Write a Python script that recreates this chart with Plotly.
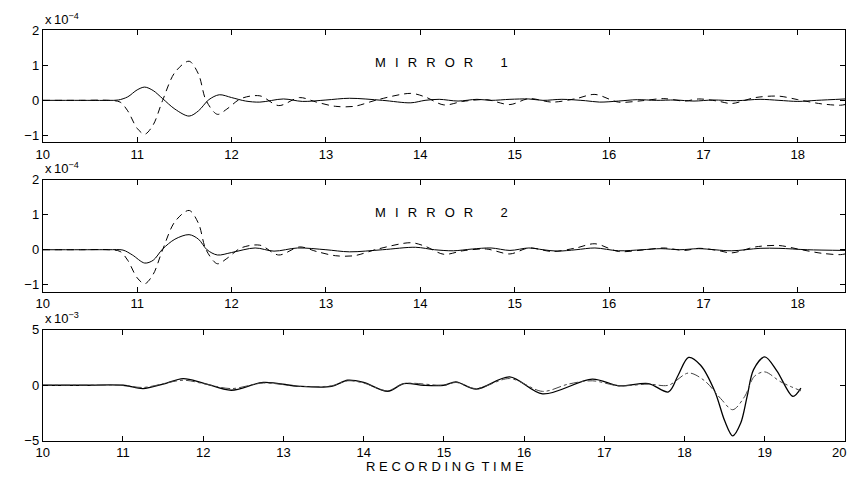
import plotly.graph_objects as go

# page is 856x484; the browser body keeps its default 8px margin, so the figure is 16px smaller
PAGE_W, PAGE_H, OFF = 856, 484, 8
W, H = PAGE_W - 2 * OFF, PAGE_H - 2 * OFF

# ---- data ----
# panel 1 & 2 dashed trace (units of 1e-4)
dash_t = [10.0, 10.4, 10.7, 10.82, 10.9, 11.0, 11.08, 11.17, 11.27, 11.4, 11.55, 11.65, 11.73, 11.85,
          11.95, 12.1, 12.3, 12.5, 12.72, 12.9, 13.1, 13.3, 13.55, 13.9, 14.05, 14.25, 14.45, 14.7,
          14.95, 15.15, 15.4, 15.65, 15.85, 16.1, 16.35, 16.58, 16.8, 16.95, 17.15, 17.3, 17.55,
          17.8, 18.0, 18.25, 18.45, 18.5]
dash_v = [0, 0, 0, -0.05, -0.3, -0.8, -0.97, -0.7, 0.0, 0.8, 1.12, 0.75, 0.0, -0.4,
          -0.25, 0.05, 0.13, -0.15, 0.08, -0.05, -0.17, -0.17, 0.02, 0.2, 0.1, -0.13, -0.03, 0.02,
          -0.12, 0.05, -0.05, 0.05, 0.17, -0.05, -0.01, 0.05, -0.02, 0.04, -0.02, -0.09, 0.08,
          0.12, 0.02, -0.1, -0.14, -0.12]

m1_t = [10.0, 10.4, 10.7, 10.8, 10.9, 11.0, 11.08, 11.17, 11.27, 11.4, 11.55, 11.65, 11.76, 11.87,
        12.0, 12.15, 12.3, 12.55, 12.75, 13.0, 13.25, 13.6, 13.9, 14.05, 14.2, 14.4, 14.6, 14.75,
        14.95, 15.15, 15.3, 15.5, 15.75, 15.9, 16.1, 16.3, 16.5, 16.7, 16.9, 17.1, 17.35,
        17.6, 17.8, 18.0, 18.2, 18.5]
m1_v = [0, 0, 0, 0.01, 0.1, 0.3, 0.38, 0.28, 0.05, -0.25, -0.45, -0.3, 0.02, 0.16,
        0.08, -0.02, -0.05, 0.04, -0.03, 0.01, 0.06, 0.0, -0.07, 0.0, 0.03, -0.02, 0.03, 0.0,
        0.03, 0.04, 0.0, 0.03, -0.01, -0.05, -0.02, 0.02, 0.0, 0.01, -0.02, 0.01, -0.01,
        0.03, 0.0, -0.03, 0.0, 0.04]

m2_t = [10.0, 10.4, 10.7, 10.85, 10.95, 11.08, 11.17, 11.27, 11.4, 11.55, 11.65, 11.74, 11.85,
        12.0, 12.25, 12.45, 12.7, 13.0, 13.25, 13.6, 13.95, 14.15, 14.35, 14.55, 14.75, 14.95,
        15.15, 15.3, 15.45, 15.65, 15.85, 16.1, 16.35, 16.55, 16.75, 16.95, 17.3, 17.6,
        17.8, 18.1, 18.5]
m2_v = [0, 0, 0, -0.01, -0.15, -0.38, -0.3, 0.02, 0.3, 0.43, 0.3, 0.0, -0.15,
        -0.08, 0.05, -0.04, 0.05, 0.0, -0.06, 0.0, 0.07, 0.0, -0.03, 0.02, 0.05, -0.02,
        0.05, 0.0, -0.04, 0.0, 0.05, -0.03, 0.0, 0.03, 0.0, 0.03, -0.03, 0.04,
        0.04, 0.0, -0.02]

# panel 3 (units of 1e-3)
rec_t = [10.0, 10.5, 11.0, 11.25, 11.5, 11.75, 12.0, 12.35, 12.75, 13.2, 13.6, 13.8, 14.0, 14.3,
         14.5, 14.75, 15.0, 15.15, 15.4, 15.82, 16.23, 16.85, 17.18, 17.55, 17.8, 17.92,
         18.05, 18.2, 18.38, 18.5, 18.6, 18.7, 18.78, 18.86, 19.0, 19.15, 19.35, 19.45]
rec_v = [0, 0, 0, -0.3, 0.1, 0.6, 0.2, -0.45, 0.25, -0.1, -0.1, 0.45, 0.25, -0.55,
         0.15, 0.0, 0.0, 0.3, -0.35, 0.75, -0.78, 0.55, -0.05, 0.15, -0.6, 0.9,
         2.5, 1.8, -0.6, -3.2, -4.55, -3.4, -1.0, 1.4, 2.55, 1.3, -1.0, -0.26]

est_t = [10.0, 10.5, 11.0, 11.25, 11.75, 12.0, 12.35, 12.75, 13.2, 13.6, 13.8, 14.0, 14.3, 14.5,
         15.0, 15.15, 15.4, 15.82, 16.23, 16.55, 16.85, 17.18, 17.55, 17.8, 18.05, 18.25,
         18.45, 18.6, 18.75, 18.87, 19.0, 19.2, 19.45]
est_v = [0, 0, 0, -0.2, 0.45, 0.15, -0.3, 0.2, -0.1, -0.05, 0.4, 0.2, -0.5, 0.15,
         0.0, 0.25, -0.3, 0.6, -0.55, 0.1, 0.4, -0.05, 0.1, 0.0, 1.1, 0.4,
         -1.2, -2.2, -1.0, 0.8, 1.2, 0.3, -0.5]

x_ticks_12 = [10, 11, 12, 13, 14, 15, 16, 17, 18]
x_ticks_3 = [10, 11, 12, 13, 14, 15, 16, 17, 18, 19, 20]
y_ticks_12 = [-1, 0, 1, 2]
y_ticks_3 = [-5, 0, 5]


# ---- layout geometry (page pixels -> paper) ----
def xp(px):
    return (px - OFF) / W


def yp(py):
    return 1 - (py - OFF) / H


L, R = 36, 845
panels = [(24, 139.5), (178, 294), (333, 448)]

FAM = "Liberation Sans, Arial, sans-serif"
font = dict(family=FAM, size=13, color="black")

fig = go.Figure()
sp = dict(shape="spline", smoothing=0.9)
fig.add_trace(go.Scatter(x=m1_t, y=m1_v, mode="lines", line=dict(color="black", width=1, **sp),
                         xaxis="x", yaxis="y"))
fig.add_trace(go.Scatter(x=dash_t, y=dash_v, mode="lines",
                         line=dict(color="black", width=1, dash="7px,5px", **sp),
                         xaxis="x", yaxis="y"))
fig.add_trace(go.Scatter(x=m2_t, y=m2_v, mode="lines", line=dict(color="black", width=1, **sp),
                         xaxis="x2", yaxis="y2"))
fig.add_trace(go.Scatter(x=dash_t, y=dash_v, mode="lines",
                         line=dict(color="black", width=1, dash="7px,5px", **sp),
                         xaxis="x2", yaxis="y2"))
fig.add_trace(go.Scatter(x=rec_t, y=rec_v, mode="lines", line=dict(color="black", width=1.3, **sp),
                         xaxis="x3", yaxis="y3"))
fig.add_trace(go.Scatter(x=est_t, y=est_v, mode="lines",
                         line=dict(color="#444", width=1, dash="dashdot", **sp),
                         xaxis="x3", yaxis="y3"))

ax_common = dict(showline=True, linecolor="black", linewidth=1, mirror="ticks", ticks="inside",
                 ticklen=5, tickcolor="black", showgrid=False, zeroline=False, tickfont=font)

xdom = [xp(L), xp(R)]
fig.update_layout(
    width=W, height=H, margin=dict(l=0, r=0, t=0, b=0),
    paper_bgcolor="white", plot_bgcolor="white", showlegend=False,
    xaxis=dict(domain=xdom, range=[10, 18.5], tickvals=x_ticks_12, anchor="y", **ax_common),
    yaxis=dict(domain=[yp(panels[0][1]), yp(panels[0][0])], range=[-1.2, 2], tickvals=y_ticks_12,
               anchor="x", **ax_common),
    xaxis2=dict(domain=xdom, range=[10, 18.5], tickvals=x_ticks_12, anchor="y2", **ax_common),
    yaxis2=dict(domain=[yp(panels[1][1]), yp(panels[1][0])], range=[-1.2, 2], tickvals=y_ticks_12,
                anchor="x2", **ax_common),
    # the last label (20) sits at the page edge, so it is drawn as a right-anchored annotation
    xaxis3=dict(domain=xdom, range=[10, 20], tickvals=x_ticks_3[:-1], anchor="y3", **ax_common),
    yaxis3=dict(domain=[yp(panels[2][1]), yp(panels[2][0])], range=[-5, 5], tickvals=y_ticks_3,
                anchor="x3", **ax_common),
)

EN, TH, HR = "\u2002", "\u2009", "\u200a"
gap = EN + TH
mirror = gap.join("MIRROR")
ann = []
for (top, bot), exp in zip(panels, ["−4", "−4", "−3"]):
    ann.append(dict(text=f"x{TH}10<sup>{exp}</sup>", x=xp(L), y=yp(top - 2), xref="paper", yref="paper",
                    xanchor="left", yanchor="bottom", showarrow=False, font=dict(font, size=13)))
for label, ypx in [("1", 57), ("2", 212)]:
    ann.append(dict(text=mirror + EN * 3 + TH * 3 + label, x=xp(369), y=yp(ypx), xref="paper",
                    yref="paper", xanchor="left", yanchor="middle", showarrow=False, font=dict(font, size=13)))
ann.append(dict(text=(TH + HR).join("RECORDING") + EN + (TH + HR).join("TIME"), x=xp(442), y=yp(465),
                xref="paper", yref="paper", xanchor="center", yanchor="top", showarrow=False, font=font))
ann.append(dict(text=str(x_ticks_3[-1]), x=1, y=yp(450), xref="paper", yref="paper",
                xanchor="right", yanchor="top", showarrow=False, font=font))
fig.update_layout(annotations=ann)

fig.write_html("out.html", config={"displayModeBar": False})
